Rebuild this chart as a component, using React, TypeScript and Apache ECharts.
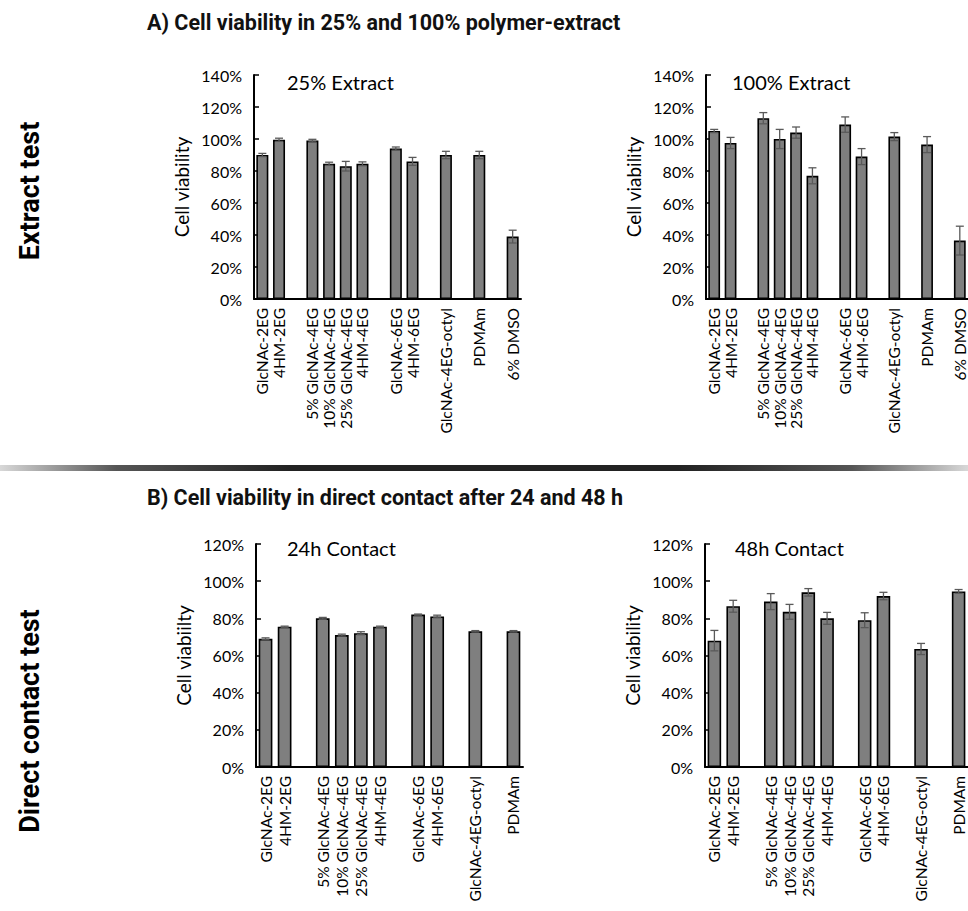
import React, { useEffect, useRef } from "react";
import * as echarts from "echarts";

const categoriesExtract = [
  "GlcNAc-2EG", "4HM-2EG", "_g1",
  "5% GlcNAc-4EG", "10% GlcNAc-4EG", "25% GlcNAc-4EG", "4HM-4EG", "_g2",
  "GlcNAc-6EG", "4HM-6EG", "_g3",
  "GlcNAc-4EG-octyl", "_g4",
  "PDMAm", "_g5",
  "6% DMSO",
];
const categoriesContact = categoriesExtract.slice(0, 14);

const extract25 = [90, 99.5, null, 99, 84.5, 83, 84.5, null, 94, 86, null, 90, null, 90, null, 39];
const extract25Err = [1, 1, null, 0.8, 1, 3, 1.2, null, 1, 2.5, null, 2.3, null, 2.3, null, 4];
const extract100 = [105, 97.5, null, 113, 100, 104, 77, null, 109, 89, null, 101.5, null, 96.5, null, 36.5];
const extract100Err = [1, 3.5, null, 3.5, 6, 3.5, 5, null, 4.8, 5, null, 2.5, null, 5, null, 9];
const contact24 = [69, 75.5, null, 80, 71, 72, 75.5, null, 82, 81, null, 73, null, 73];
const contact24Err = [0.5, 0.3, null, 0.5, 0.5, 0.8, 0.3, null, 0.3, 0.7, null, 0.4, null, 0.4];
const contact48 = [68, 86.5, null, 89, 83.5, 94, 80, null, 79, 92, null, 63.5, null, 94.5];
const contact48Err = [5.5, 3.2, null, 4.3, 4, 2, 3.2, null, 4, 2, null, 3, null, 1];

const yTicksExtract = { min: 0, max: 140, interval: 20 };
const yTicksContact = { min: 0, max: 120, interval: 20 };

const panelTitles = ["25% Extract", "100% Extract", "24h Contact", "48h Contact"];
const axisNames = ["Cell viability", "Cell viability", "Cell viabiilty", "Cell viability"];
const mainTitleA = "A) Cell viability in 25% and 100% polymer-extract";
const mainTitleB = "B) Cell viability in direct contact after 24 and 48 h";
const sideA = "Extract test";
const sideB = "Direct contact test";

const LABEL_FONT = "Lato, 'Open Sans', sans-serif";
const TITLE_FONT = "Roboto, 'Liberation Sans', sans-serif";

export default function App() {
  const ref = useRef<HTMLDivElement>(null);
  useEffect(() => {
    if (!ref.current) return;
    const chart = echarts.init(ref.current, undefined, { renderer: "svg" });

    const grids = [
      { left: 254, top: 75, width: 267, height: 224 },
      { left: 706, top: 75, width: 267, height: 224 },
      { left: 256, top: 544, width: 267, height: 223 },
      { left: 705, top: 544, width: 270, height: 223 },
    ];
    const cats = [categoriesExtract, categoriesExtract, categoriesContact, categoriesContact];
    const vals = [extract25, extract100, contact24, contact48];
    const errs = [extract25Err, extract100Err, contact24Err, contact48Err];
    const yt = [yTicksExtract, yTicksExtract, yTicksContact, yTicksContact];

    const xAxis = cats.map((c, i) => ({
      type: "category",
      gridIndex: i,
      data: c,
      axisLine: { lineStyle: { color: "#000", width: 2 } },
      axisTick: { show: false },
      axisLabel: {
        interval: 0,
        rotate: 90,
        margin: 9,
        fontSize: 15.5,
        color: "#000",
        fontFamily: LABEL_FONT,
        formatter: (v: string) => (v.startsWith("_") ? "" : v),
      },
    }));
    const yAxis = yt.map((t, i) => ({
      type: "value",
      gridIndex: i,
      min: t.min,
      max: t.max,
      interval: t.interval,
      name: axisNames[i],
      nameLocation: "middle",
      nameGap: 63,
      nameTextStyle: { fontSize: 19, color: "#000", fontFamily: LABEL_FONT },
      splitLine: { show: false },
      axisLine: { show: true, lineStyle: { color: "#000", width: 2 } },
      axisTick: { show: true, inside: true, length: 5, lineStyle: { color: "#000", width: 1.5 } },
      axisLabel: {
        formatter: "{value}%",
        fontSize: 16,
        color: "#000",
        margin: 12,
        fontFamily: LABEL_FONT,
      },
    }));

    const series: any[] = [];
    vals.forEach((v, i) => {
      series.push({
        type: "bar",
        xAxisIndex: i,
        yAxisIndex: i,
        data: v,
        barWidth: "72%",
        itemStyle: { color: "#7f7f7f", borderColor: "#000", borderWidth: 1.6 },
        z: 2,
      });
      const ed = v
        .map((val, k) => (val == null ? null : [k, val, errs[i][k]]))
        .filter((d) => d !== null);
      series.push({
        type: "custom",
        xAxisIndex: i,
        yAxisIndex: i,
        data: ed,
        z: 5,
        renderItem: (params: any, api: any) => {
          const x = api.value(0);
          const y = api.value(1);
          const e = api.value(2);
          const hi = api.coord([x, y + e]);
          const lo = api.coord([x, y - e]);
          const cw = 4;
          const st = { stroke: "#5a5a5a", lineWidth: 1.3 };
          return {
            type: "group",
            children: [
              { type: "line", shape: { x1: hi[0], y1: hi[1], x2: lo[0], y2: lo[1] }, style: st },
              { type: "line", shape: { x1: hi[0] - cw, y1: hi[1], x2: hi[0] + cw, y2: hi[1] }, style: st },
              { type: "line", shape: { x1: lo[0] - cw, y1: lo[1], x2: lo[0] + cw, y2: lo[1] }, style: st },
            ],
          };
        },
      });
    });

    const panelPos = [
      [287, 82],
      [732, 82],
      [287, 548],
      [735, 548],
    ];

    const graphic: any[] = [
      {
        type: "text",
        x: 147,
        y: 22,
        style: {
          text: mainTitleA,
          font: `bold 21.5px ${TITLE_FONT}`,
          fill: "#111",
          verticalAlign: "middle",
        },
      },
      {
        type: "text",
        x: 147,
        y: 497,
        style: {
          text: mainTitleB,
          font: `bold 21.5px ${TITLE_FONT}`,
          fill: "#111",
          verticalAlign: "middle",
        },
      },
      {
        type: "text",
        x: 30,
        y: 191,
        rotation: Math.PI / 2,
        style: {
          text: sideA,
          font: `bold 27px ${TITLE_FONT}`,
          fill: "#000",
          align: "center",
          verticalAlign: "middle",
        },
      },
      {
        type: "text",
        x: 30,
        y: 721,
        rotation: Math.PI / 2,
        style: {
          text: sideB,
          font: `bold 27px ${TITLE_FONT}`,
          fill: "#000",
          align: "center",
          verticalAlign: "middle",
        },
      },
      {
        type: "rect",
        shape: { x: 0, y: 465, width: 968, height: 6 },
        style: {
          fill: {
            type: "linear",
            x: 0,
            y: 0,
            x2: 1,
            y2: 0,
            colorStops: [
              { offset: 0, color: "#d8d8d8" },
              { offset: 0.12, color: "#555" },
              { offset: 0.3, color: "#222" },
              { offset: 0.7, color: "#222" },
              { offset: 0.88, color: "#555" },
              { offset: 1, color: "#d8d8d8" },
            ],
          },
        },
      },
    ];
    panelTitles.forEach((t, i) => {
      graphic.push({
        type: "text",
        x: panelPos[i][0],
        y: panelPos[i][1],
        style: {
          text: t,
          font: `20px ${LABEL_FONT}`,
          fill: "#000",
          verticalAlign: "middle",
        },
      });
    });

    chart.setOption({
      animation: false,
      backgroundColor: "#fff",
      grid: grids,
      xAxis,
      yAxis,
      series,
      graphic,
    });
    return () => chart.dispose();
  }, []);

  return (
    <div
      ref={ref}
      style={{ position: "absolute", left: 0, top: 0, width: 968, height: 911 }}
    />
  );
}
